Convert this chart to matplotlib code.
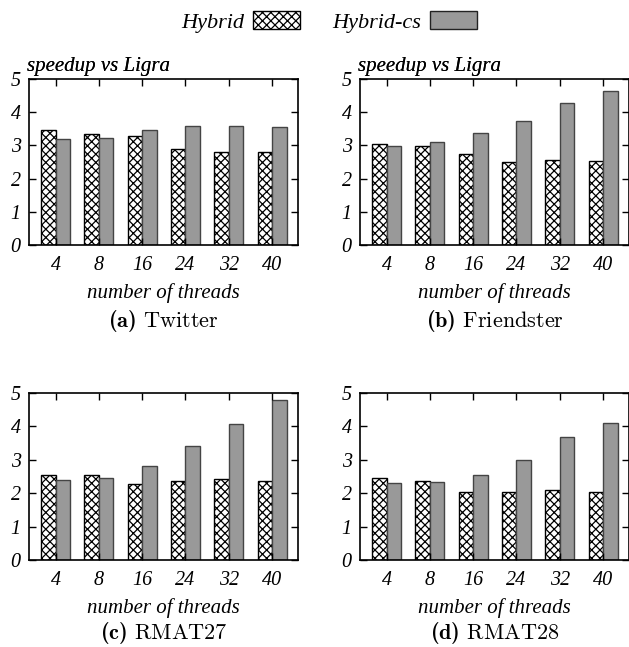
import matplotlib
matplotlib.use("Agg")
import matplotlib.pyplot as plt
import numpy as np
from matplotlib.patches import Patch

plt.rcParams['font.family'] = ['Liberation Serif', 'DejaVu Serif']
plt.rcParams['mathtext.fontset'] = 'custom'
plt.rcParams['mathtext.rm'] = 'cmr10'
plt.rcParams['mathtext.bf'] = 'cmb10'
plt.rcParams['hatch.linewidth'] = 0.9

threads = ["4", "8", "16", "24", "32", "40"]
series_names = ["Hybrid", "Hybrid-cs"]

twitter_hybrid = [3.45, 3.33, 3.28, 2.89, 2.80, 2.80]
twitter_cs = [3.19, 3.22, 3.45, 3.59, 3.58, 3.55]
friendster_hybrid = [3.04, 2.97, 2.74, 2.49, 2.56, 2.53]
friendster_cs = [2.99, 3.09, 3.37, 3.74, 4.27, 4.64]
rmat27_hybrid = [2.55, 2.54, 2.27, 2.36, 2.42, 2.36]
rmat27_cs = [2.39, 2.47, 2.80, 3.41, 4.07, 4.78]
rmat28_hybrid = [2.45, 2.38, 2.04, 2.04, 2.10, 2.03]
rmat28_cs = [2.30, 2.34, 2.54, 3.00, 3.68, 4.10]

panels = [
    ("a", "Twitter", twitter_hybrid, twitter_cs),
    ("b", "Friendster", friendster_hybrid, friendster_cs),
    ("c", "RMAT27", rmat27_hybrid, rmat27_cs),
    ("d", "RMAT28", rmat28_hybrid, rmat28_cs),
]

W, H = 629, 647
fig = plt.figure(figsize=(W / 100, H / 100), dpi=100)

# axes pixel boxes (left, top, right, bottom) and caption baseline
boxes = [
    (29, 79, 298, 245, 327),
    (360, 79, 629, 245, 327),
    (29, 393, 298, 560, 639),
    (360, 393, 629, 560, 639),
]

gray = "#999999"
edge_gray = "#444444"
bw = 0.335

for (letter, name, hyb, cs), (l, t, r, b, cap) in zip(panels, boxes):
    ax = fig.add_axes([l / W, 1 - b / H, (r - l) / W, (b - t) / H])
    x = np.arange(len(threads))
    ax.bar(x - bw / 2, hyb, bw, facecolor="white", edgecolor="black",
           hatch="xxxx", linewidth=1.0)
    ax.bar(x + bw / 2, cs, bw, facecolor=gray, edgecolor=edge_gray,
           linewidth=1.0)
    ax.set_xlim(-0.615, 5.6)
    ax.set_ylim(0, 5)
    ax.set_xticks(x)
    ax.set_xticklabels(threads, fontsize=14.5, style="italic")
    ax.set_yticks(range(6))
    ax.set_yticklabels([str(i) for i in range(6)], fontsize=14.5, style="italic")
    ax.tick_params(direction="in", length=5, width=1, top=True, right=True,
                   pad=8)
    ax.tick_params(axis="y", pad=6)
    for s in ax.spines.values():
        s.set_linewidth(1.2)
    ax.set_xlabel("number of threads", fontsize=15, style="italic", labelpad=6)
    fig.text((l - 2) / W, 1 - 67 / H, "speedup vs Ligra", fontsize=15,
             style="italic", ha="left", va="center")
    cx = (l + r) / 2 / W
    fig.text(cx, 1 - cap / H,
             r"$\mathbf{(%s)}\ \mathrm{%s}$" % (letter, name),
             fontsize=16, ha="center", va="baseline")

handles = [
    Patch(facecolor="white", edgecolor="black", hatch="xxxx", linewidth=1.0),
    Patch(facecolor=gray, edgecolor="#222222", linewidth=1.0),
]
fig.legend(handles, series_names, loc="center", bbox_to_anchor=(0.523, 1 - 22 / H),
           ncol=2, frameon=False, markerfirst=False, handlelength=2.1,
           handleheight=0.85, columnspacing=1.45, handletextpad=0.42,
           prop={"style": "italic", "size": 16})

fig.savefig("out.png", dpi=100)
